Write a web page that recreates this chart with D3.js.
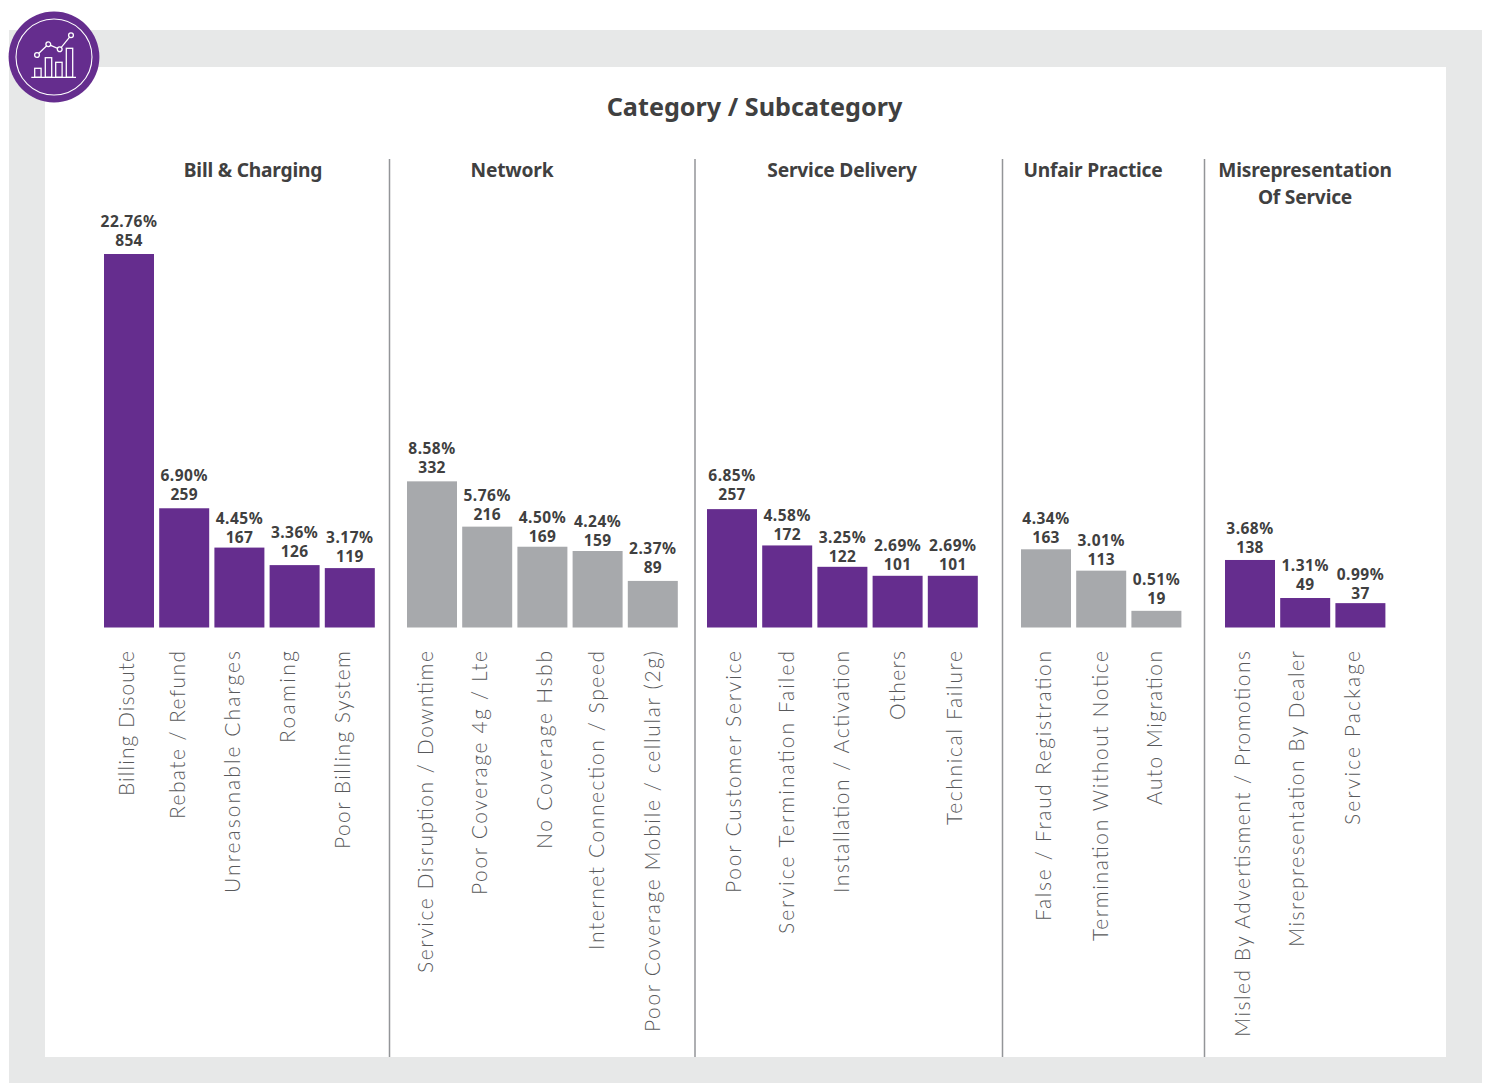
<!DOCTYPE html>
<html><head><meta charset="utf-8">
<script src="https://cdn.jsdelivr.net/npm/d3@7/dist/d3.min.js"></script>
<style>html,body{margin:0;padding:0;background:#fff}svg{display:block}</style>
</head><body><svg id="c" width="1486" height="1083"></svg>
<script>
const groupNames = [["Bill & Charging"],["Network"],["Service Delivery"],["Unfair Practice"],["Misrepresentation","Of Service"]];
const billLabels = ["Billing Disoute","Rebate / Refund","Unreasonable Charges","Roaming","Poor Billing System"];
const billCounts = [854,259,167,126,119];
const billPct = ["22.76%","6.90%","4.45%","3.36%","3.17%"];
const netLabels = ["Service Disruption / Downtime","Poor Coverage 4g / Lte","No Coverage Hsbb","Internet Connection / Speed","Poor Coverage Mobile / cellular (2g)"];
const netCounts = [332,216,169,159,89];
// the first Network bar is drawn at the height of 322 although it is labelled 332
const netBarHeights = [322,216,169,159,89];
const netPct = ["8.58%","5.76%","4.50%","4.24%","2.37%"];
const svcLabels = ["Poor Customer Service","Service Termination Failed","Installation / Activation","Others","Technical Failure"];
const svcCounts = [257,172,122,101,101];
const svcPct = ["6.85%","4.58%","3.25%","2.69%","2.69%"];
const unfLabels = ["False / Fraud Registration","Termination Without Notice","Auto Migration"];
const unfCounts = [163,113,19];
const unfPct = ["4.34%","3.01%","0.51%"];
const misLabels = ["Misled By Advertisment / Promotions","Misrepresentation By Dealer","Service Package"];
const misCounts = [138,49,37];
const misPct = ["3.68%","1.31%","0.99%"];

const groups = [
  {name:groupNames[0],labels:billLabels,counts:billCounts,bars:billCounts,pct:billPct,color:"#652d8e",x0:104,cx:253,
   len:[145,168,242,92,198],off:[5,1,1,0,0],dy:[0,0,3,0,2]},
  {name:groupNames[1],labels:netLabels,counts:netCounts,bars:netBarHeights,pct:netPct,color:"#a7a9ac",x0:407,cx:512,
   len:[322,244,198,299,381],off:[1,0,10,6,7],dy:[0,1,3,3,0]},
  {name:groupNames[2],labels:svcLabels,counts:svcCounts,bars:svcCounts,pct:svcPct,color:"#652d8e",x0:707,cx:842,
   len:[242,283,242,69,174],off:[9,7,7,7,9],dy:[-1,3,3,2,2]},
  {name:groupNames[3],labels:unfLabels,counts:unfCounts,bars:unfCounts,pct:unfPct,color:"#a7a9ac",x0:1021,cx:1093,
   len:[270,290,154],off:[5,7,6],dy:[2,2,1]},
  {name:groupNames[4],labels:misLabels,counts:misCounts,bars:misCounts,pct:misPct,color:"#652d8e",x0:1225,cx:1305,
   len:[386,296,174],off:[0,-1,0],dy:[1,0,4]}
];
const dividers = [389.5,695,1002.5,1204.5];
const svg = d3.select("#c");
const ink = "#404040";
const sans = "'Noto Sans',sans-serif";

svg.append("rect").attr("x",9).attr("y",30).attr("width",1473).attr("height",1053).attr("fill","#e7e8e8");
svg.append("rect").attr("x",45).attr("y",67).attr("width",1401).attr("height",990).attr("fill","#fff");

svg.append("text").attr("x",754.5).attr("y",115.5).attr("text-anchor","middle")
  .attr("font-family",sans).attr("font-weight",700).attr("font-size",25.2).attr("fill",ink)
  .text("Category / Subcategory");

svg.selectAll("line.div").data(dividers).join("line").attr("class","div")
  .attr("x1",d=>d).attr("x2",d=>d).attr("y1",159).attr("y2",1057)
  .attr("stroke","#939598").attr("stroke-width",1.5);

// the picture's value axis does not start at zero: the bars stand about 8px above a zero baseline
const y = d3.scaleLinear().domain([-20,854]).range([627.5,254]);
const step = 55.2, bw = 50;

groups.forEach(g=>{
  const x = d3.scaleBand().domain(g.labels)
    .range([g.x0, g.x0 + step*g.labels.length - (step-bw)]).paddingInner((step-bw)/step).paddingOuter(0);
  const root = svg.append("g");
  const name = root.append("text").attr("text-anchor","middle").attr("font-family",sans).attr("font-weight",700)
    .attr("font-size",19.2).attr("letter-spacing",-0.2).attr("fill",ink);
  g.name.forEach((t,i)=>name.append("tspan").attr("x",g.cx).attr("y",177+i*26.5).text(t));
  const rows = g.labels.map((l,i)=>({l,c:g.counts[i],b:g.bars[i],p:g.pct[i],len:g.len[i],off:g.off[i],dy:g.dy[i]}));
  root.selectAll("rect").data(rows).join("rect")
    .attr("x",d=>x(d.l)).attr("width",x.bandwidth())
    .attr("y",d=>y(d.b)).attr("height",d=>y.range()[0]-y(d.b)).attr("fill",g.color);
  const val = root.selectAll("text.v").data(rows).join("text").attr("class","v")
    .attr("text-anchor","middle").attr("font-family",sans).attr("font-weight",700)
    .attr("font-size",15.5).attr("fill",ink);
  val.append("tspan").attr("letter-spacing",0.5)
    .attr("x",d=>x(d.l)+x.bandwidth()/2).attr("y",d=>y(d.b)-27+d.dy).text(d=>d.p);
  val.append("tspan").attr("letter-spacing",0.3)
    .attr("x",d=>x(d.l)+x.bandwidth()/2).attr("y",d=>y(d.b)-8+d.dy).text(d=>d.c);
  root.selectAll("text.l").data(rows).join("text").attr("class","l")
    .attr("transform",d=>`translate(${x(d.l)+x.bandwidth()/2+d.off},651) rotate(-90)`)
    .attr("text-anchor","end").attr("font-family","Lato,sans-serif").attr("font-weight",300)
    .attr("font-size",21).attr("textLength",d=>d.len).attr("lengthAdjust","spacing")
    .attr("fill","#58595b").text(d=>d.l);
});

// badge
const b = svg.append("g").attr("transform","translate(54,57)");
b.append("circle").attr("r",45.4).attr("fill","#652d8e");
b.append("circle").attr("r",38).attr("fill","none").attr("stroke","#fff").attr("stroke-width",1.1);
const ic = "#fff";
const iconBars = [[-19.3,9],[-8.7,19.6],[1.7,15],[12.3,29]];
b.selectAll("rect").data(iconBars).join("rect")
  .attr("x",d=>d[0]).attr("y",d=>20.3-d[1]).attr("width",6.4).attr("height",d=>d[1])
  .attr("fill","none").attr("stroke",ic).attr("stroke-width",1.3);
b.append("line").attr("x1",-22.7).attr("x2",22).attr("y1",20.3).attr("y2",20.3).attr("stroke",ic).attr("stroke-width",1.3);
const iconPts = [[-17,-2],[-5.7,-12.7],[5.7,-7.7],[17,-21.7]];
b.append("path").attr("d",d3.line()(iconPts)).attr("fill","none").attr("stroke",ic).attr("stroke-width",1.3);
b.selectAll("circle.p").data(iconPts).join("circle").attr("class","p")
  .attr("cx",d=>d[0]).attr("cy",d=>d[1]).attr("r",2.4).attr("fill","#652d8e").attr("stroke",ic).attr("stroke-width",1.3);
</script></body></html>
